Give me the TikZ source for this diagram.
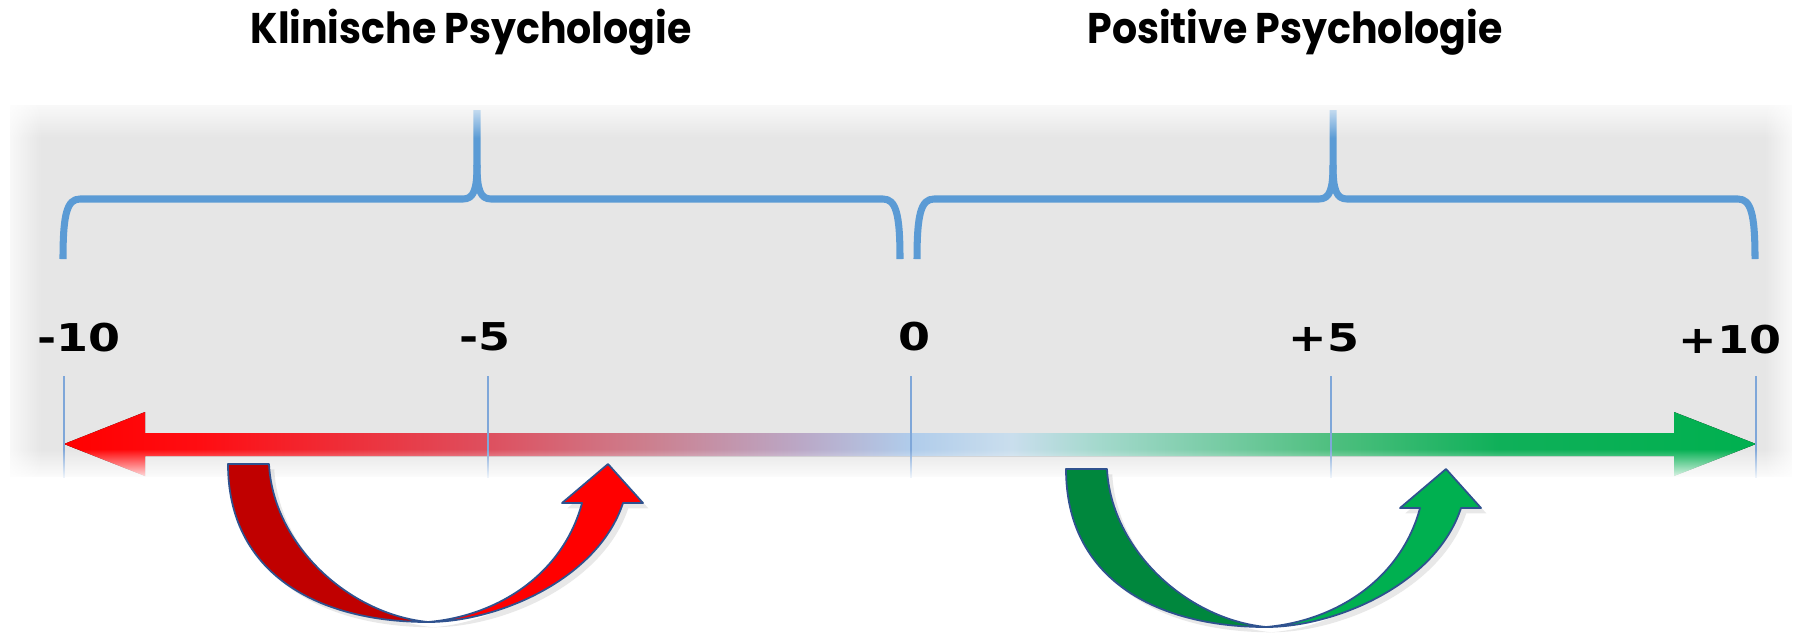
\documentclass[tikz,border=0pt]{standalone}
\usepackage{fontspec}
\newfontfamily\titlefont{Poppins}[FakeStretch=0.92]
\newfontfamily\scalefont{DejaVu Sans}[FakeStretch=1.2]
\usetikzlibrary{fadings,shadows}
\definecolor{bracecol}{HTML}{5B9BD5}
\definecolor{tickcol}{HTML}{7FA7D9}
\definecolor{bandgray}{HTML}{E6E6E6}
\definecolor{edgeblue}{HTML}{2F528F}
\definecolor{darkred}{HTML}{C00000}
\definecolor{darkgreen}{HTML}{00873D}
\definecolor{litegreen}{HTML}{00B050}
\pgfdeclarehorizontalshading{scalegrad}{100bp}{rgb(0bp)=(1,0,0); rgb(25bp)=(1,0,0); rgb(29bp)=(1,0.05,0.07); rgb(37.5bp)=(0.87,0.31,0.37); rgb(42.3bp)=(0.8,0.5,0.56); rgb(46.8bp)=(0.73,0.66,0.78); rgb(50bp)=(0.69,0.8,0.92); rgb(53bp)=(0.79,0.87,0.93); rgb(55.6bp)=(0.64,0.85,0.8); rgb(62.4bp)=(0.31,0.75,0.5); rgb(67.4bp)=(0.06,0.69,0.35); rgb(75bp)=(0,0.69,0.31); rgb(100bp)=(0,0.69,0.31)}

\begin{document}
\begin{tikzpicture}[x=0.01cm,y=-0.01cm,
    bluebrace/.style={draw=bracecol,line width=2pt,line join=round},
    tickline/.style={draw=tickcol,line width=0.45pt},
    title/.style={font={\titlefont\bfseries\fontsize{12.2}{14}\selectfont},anchor=base,inner sep=0pt},
    scalelabel/.style={font={\scalefont\bfseries\fontsize{10.9}{13}\selectfont},anchor=base,inner sep=0pt},
    ribbon/.style={draw=edgeblue,line width=0.5pt,line join=round,drop shadow={opacity=0.18,shadow xshift=1.5pt,shadow yshift=-1.5pt}}]
    \useasboundingbox (0,0) rectangle (1794,636);
    \fill[bandgray] (10,105) rectangle (1792,477);
    \node [title] (klin) at (471,43) {Klinische Psychologie};
    \node [title] (posi) at (1295,43) {Positive Psychologie};
    \draw [bluebrace] (63,259) .. controls (63,214) and (67,199) .. (80,199) -- (463,199)
        .. controls (474,199) and (477,189) .. (477,165) -- (477,110);
    \draw [bluebrace] (477,165) .. controls (477,189) and (480,199) .. (491,199) -- (883,199)
        .. controls (896,199) and (900,214) .. (900,259);
    \draw [bluebrace] (917,259) .. controls (917,214) and (921,199) .. (934,199) -- (1319,199)
        .. controls (1330,199) and (1333,189) .. (1333,165) -- (1333,110);
    \draw [bluebrace] (1333,165) .. controls (1333,189) and (1336,199) .. (1347,199) -- (1738,199)
        .. controls (1751,199) and (1755,214) .. (1755,259);
    \coordinate (m10) at (64,444);
    \coordinate (p10) at (1756,444);
    \fill [shading=scalegrad] (m10) -- (145,412) -- (145,433) -- (1674,433) -- (1674,412) -- (p10)
        -- (1674,476) -- (1674,456) -- (145,456) -- (145,476) -- cycle;
    \foreach \x in {64,488,911,1331,1756}
        \draw [tickline] (\x,376) -- (\x,478);
    \fill [white,path fading=south] (0,94) rectangle (1794,138);
    \fill [white,path fading=north] (0,449) rectangle (1794,481);
    \fill [white,path fading=east] (-2,88) rectangle (42,489);
    \fill [white,path fading=west] (1764,88) rectangle (1802,489);
    \node [scalelabel] (lm10) at (79,351) {-10};
    \node [scalelabel] (lm5) at (485,350) {-5};
    \node [scalelabel] (lnull) at (914,350) {0};
    \node [scalelabel] (lp5) at (1324,351) {+5};
    \node [scalelabel] (lp10) at (1730,353) {+10};
    \begin{scope}[shift={(228,464)}]
        \filldraw [ribbon,fill=darkred] (0,0) -- (41,0) .. controls (45,80) and (120,150) .. (200,158)
            .. controls (90,158) and (0,110) .. (0,0) -- cycle;
        \filldraw [ribbon,fill=red] (200,158) .. controls (270,152) and (335,110) .. (354,39) -- (334,39)
            -- (380,0) -- (415,39) -- (395,39) .. controls (370,115) and (270,158) .. (200,158) -- cycle;
    \end{scope}
    \begin{scope}[shift={(1066,469)}]
        \filldraw [ribbon,fill=darkgreen] (0,0) -- (41,0) .. controls (45,80) and (120,150) .. (200,158)
            .. controls (90,158) and (0,110) .. (0,0) -- cycle;
        \filldraw [ribbon,fill=litegreen] (200,158) .. controls (270,152) and (335,110) .. (354,39) -- (334,39)
            -- (380,0) -- (415,39) -- (395,39) .. controls (370,115) and (270,158) .. (200,158) -- cycle;
    \end{scope}
\end{tikzpicture}
\end{document}
